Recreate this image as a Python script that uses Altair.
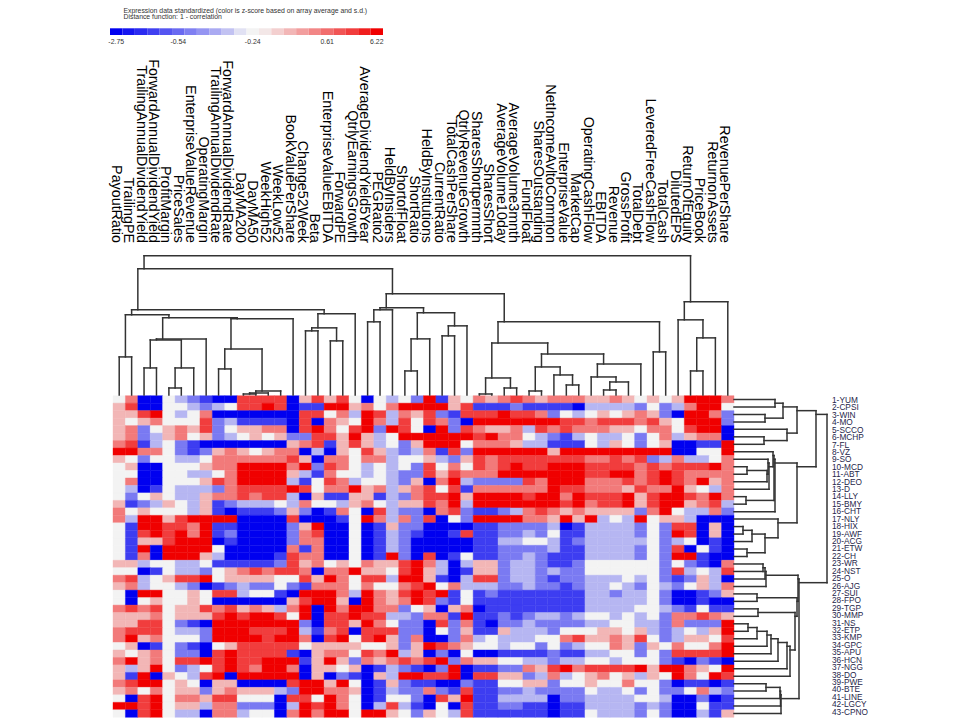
import altair as alt
import pandas as pd

COLUMN_NAMES = ["PayoutRatio","TrailingPE","TrailingAnnualDividendYield","ForwardAnnualDividendYield","ProfitMargin",
 "PriceSales","EnterpriseValueRevenue","OperatingMargin","TrailingAnnualDividendRate","ForwardAnnualDividendRate",
 "DayMA200","DayMA50","WeekHigh52","WeekLow52","BookValuePerShare","Change52Week","Beta","EnterpriseValueEBITDA",
 "ForwardPE","QtrlyEarningsGrowth","AverageDividendYield5Year","PEGRatio2","HeldByInsiders","ShortofFloat","ShortRatio",
 "HeldByInstitutions","CurrentRatio","TotalCashPerShare","QtrlyRevenueGrowth","SharesShortpermnth","SharesShort",
 "AverageVolume10day","AverageVolume3mnth","FundFloat","SharesOutstanding","NetIncomeAvltoCommon","EnterpriseValue",
 "MarketCap","OperatingCashFlow","EBITDA","Revenue","GrossProfit","TotalDebt","LeveredFreeCashFlow","TotalCash",
 "DilutedEPS","ReturnOfEquity","PriceBook","ReturnonAssets","RevenuePerShare"]

ROW_NAMES = ["1-YUM","2-CPSI","3-WIN","4-MO","5-SCCO","6-MCHP","7-FL","8-VZ","9-SO","10-MCD","11-ABT","12-DEO","13-D",
 "14-LLY","15-BMY","16-CHT","17-NLY","18-HIX","19-AWF","20-ACG","21-ETW","22-CH","23-WR","24-NST","25-O","26-AJG",
 "27-SUI","28-FPO","29-TGP","30-MMP","31-NS","32-ETP","33-KMP","34-GPC","35-APU","36-HCN","37-NGG","38-DO","39-PWE",
 "40-BTE","41-LINE","42-LGCY","43-CPNO"]

# colour level per cell: 0 = deepest blue, 4 = neutral, 8 = deepest red
LEVELS = [
 "46004321007777057 57404342815465676 5666556545458886",
 "57004432347787011 88564688885711121 1110333324236884",
 "55784346000000077 46387365721777877 6243454565208862",
 "54564447231111070 65486374762088888 8877677767548882",
 "56245657245566078 64782874082765563 7676665546647880",
 "56235645234545227 75853488888878664 3213433424635660",
 "67134210000000567 15753425888466653 3111435424500118",
 "88664212565456603 05475323617288888 8588888888800448",
 "54244334666666750 66466344532576777 7777667672363346",
 "45004445668888682 76434342746476787 7888777767677786",
 "44004433468888531 64434322757666888 8888778867876666",
 "46004445768888314 76344325068322227 6888666767876856",
 "43014333267777874 66856356747166666 6877666576685436",
 "42454335667677305 11551326778588887 8868777857887686",
 "51235435123334364 43564355768388888 8878677857885673",
 "64544435101112520 16407322067211236 7656555526843362",
 "63885788880000700 01486362704288886 6585834384553000",
 "41887768110000258 00401522000011222 2301333324277050",
 "41787868120000267 00401321001711223 2411333324287050",
 "41557888010000266 00401320000011334 4312333334234010",
 "41808888400000616 00401320000011222 2311333324270410",
 "41608885300001766 00401820701411223 2111333324288100",
 "55344334111112756 45465578630355233 2112444444242106",
 "44014332456767760 66855478530155233 2322444444273437",
 "67345778455554475 86477388510377233 2122333434212530",
 "56344320123224216 66464467846333223 2212334324324536",
 "40884454773441088 86386578781412111 1111332334200125",
 "40454454000000578 85086568721411111 1111333334200100",
 "67674557675653680 86886624505601111 1111333344321411",
 "55564555787887480 77877332661811212 3323443434266765",
 "55774210888888820 77586422072610223 2222334433262228",
 "67774332888777831 67077722042511533 3244455453234358",
 "68564442888878860 78478526002634333 4467556574235547",
 "45014210457777745 55544525876544344 2423446525464468",
 "54564220787777105 66476835020400111 1211334424277778",
 "68564778787788815 85265676782655443 3233443444210210",
 "53584234787688605 54501321028011226 5786777785886548",
 "51805437808888805 02105388778077552 3634564535486487",
 "67884540550000788 58401521100211445 5244544644201101",
 "56464552565553288 66501322621711223 2222433424224632",
 "40784665774440774 86401442075811333 3022333344300201",
 "88784553662220387 86403731040711221 1011333323200411",
 "40784330663440686 88488542543711111 1011433324200315",
]

# merge trees: (distance, left, right), a plain int is a leaf
COL_LEFT_A = (.80, (.38, 0, 1),
              (.77, (.56, (.55, (.27, 2, 3), (.27, (.07, 4, 5), 6)), 7),
               (.76, (.46, (.26, 8, 9), (.04, (.02, (.01, 10, 11), 12), 13)), 14)))
COL_LEFT_B = (.81, (.67, (.64, 15, 16), (.54, 17, 18)), 19)
COL_MID_A = (.87, (.85, (.73, 20, 21), 22),
             (.82, (.56, (.24, 23, 24), 25), (.69, (.59, 26, 27), 28)))
COL_MID_B = (.73, (.52, (.17, (.01, 29, 30), (.07, 31, 32)),
                   (.41, (.28, (.04, 33, 34), (.20, 35, (.10, 36, 37))),
                    (.31, (.18, 38, (.13, (.05, 39, 40), 41)), 42))),
             (.43, 43, 44))
COL_RIGHT = (.93, (.75, 45, (.57, (.24, 46, 47), 48)), 49)
COL_TREE = (1.39, (1.26, (.85, COL_LEFT_A, COL_LEFT_B), (1.01, COL_MID_A, COL_MID_B)), COL_RIGHT)

ROW_TOP = (.63, (.49, (.41, 0, 1), (.31, 2, 3)), (.53, 4, (.30, 5, 6)))
ROW_MID = (.41, (.40, (.39, 7, (.35, (.34, 8, (.33, (.13, 9, 10), 11)), 12)), (.12, 13, 14)), 15)
ROW_LOW = (.44, 16, (.31, (.18, (.09, 17, 18), 19), (.13, 20, 21)))
ROW_Q = (.56, (.53, (.44, (.37, (.33, (.23, (.14, 30, 31), 32), 33), 34), 35), 36), 37)
ROW_BOT = (.65, (.64, (.32, (.31, (.29, 22, 23), 24), 25),
                 (.63, (.23, 26, 27), (.61, (.24, 28, 29), ROW_Q))),
           (.47, (.465, (.46, (.32, 38, 39), 40), 41), 42))
ROW_TREE = (.93, (.82, ROW_TOP, (.63, ROW_MID, ROW_LOW)), ROW_BOT)

LEGEND_LEVELS = [0, .35, .7, 1.05, 1.4, 1.75, 2.1, 2.45, 2.8, 3.2, 3.7, 4, 4.2, 4.6, 5, 5.4, 5.8, 6.2, 6.6, 7, 7.5, 8]
LEGEND_TICKS = ["-2.75", "-0.54", "-0.24", "0.61", "6.22"]
LEGEND_TICK_CELLS = [0, 5, 11, 17, 21]
HEADER_LINES = ["Expression data standardized (color is z-score based on array average and s.d.)",
                "Distance function: 1 - correlation"]

LINE = "#333333"
FONT = "Liberation Sans"


def walk(node, out):
    if isinstance(node, int):
        return node + 0.5, 0.0
    d, left, right = node
    lp, ld = walk(left, out)
    rp, rd = walk(right, out)
    out.append((lp, rp, d, d))
    out.append((lp, lp, ld, d))
    out.append((rp, rp, rd, d))
    return lp + 0.5, d


col_segs = []
walk(COL_TREE, col_segs)
row_segs = []
walk(ROW_TREE, row_segs)

cells = []
for r, row in enumerate(LEVELS):
    digits = row.replace(" ", "")
    for c, ch in enumerate(digits):
        cells.append({"c0": c, "c1": c + 1, "r0": r, "r1": r + 1, "level": int(ch)})

col_scale = alt.Scale(domain=[0, 50], range=[105, 726])
row_scale = alt.Scale(domain=[0, 43], range=[387.7, 709.3])
color_scale = alt.Scale(domain=[0, 4, 8], range=["#0000f0", "#f3f3f3", "#f00000"], interpolate="rgb")

heat = alt.Chart(pd.DataFrame(cells)).mark_rect(strokeWidth=0.4).encode(
    x=alt.X("c0:Q", scale=col_scale, axis=None),
    x2="c1:Q",
    y=alt.Y("r0:Q", scale=row_scale, axis=None),
    y2="r1:Q",
    color=alt.Color("level:Q", scale=color_scale, legend=None),
    stroke=alt.Stroke("level:Q", scale=color_scale, legend=None),
)

col_df = pd.DataFrame(col_segs, columns=["a", "b", "d0", "d1"])
col_dend = alt.Chart(col_df).mark_rule(color=LINE, strokeWidth=1.5, strokeCap="square").encode(
    x=alt.X("a:Q", scale=col_scale, axis=None),
    x2="b:Q",
    y=alt.Y("d0:Q", scale=alt.Scale(domain=[0, 1.39], range=[387, 247.7]), axis=None),
    y2="d1:Q",
)

row_df = pd.DataFrame(row_segs, columns=["a", "b", "d0", "d1"])
row_dend = alt.Chart(row_df).mark_rule(color=LINE, strokeWidth=1.5, strokeCap="square").encode(
    y=alt.Y("a:Q", scale=row_scale, axis=None),
    y2="b:Q",
    x=alt.X("d0:Q", scale=alt.Scale(domain=[0, .93], range=[726, 819]), axis=None),
    x2="d1:Q",
)

col_labels = alt.Chart(pd.DataFrame({"name": COLUMN_NAMES, "pos": [i + 0.5 for i in range(50)]})).mark_text(
    angle=90, align="right", baseline="middle", fontSize=14.3, font=FONT, color="#000000"
).encode(
    x=alt.X("pos:Q", scale=alt.Scale(domain=[0, 50], range=[101.5, 722.5]), axis=None),
    y=alt.value(235),
    text="name:N",
)

row_labels = alt.Chart(pd.DataFrame({"name": ROW_NAMES, "pos": list(range(43))})).mark_text(
    align="left", baseline="middle", fontSize=8.3, font=FONT, color="#26264a"
).encode(
    x=alt.value(824),
    y=alt.Y("pos:Q", scale=alt.Scale(domain=[0, 42], range=[393, 704.7]), axis=None),
    text="name:N",
)

legend_scale = alt.Scale(domain=[0, 22], range=[102, 375])
legend_cells = alt.Chart(pd.DataFrame({
    "c0": list(range(22)), "c1": [i + 1 for i in range(22)], "level": LEGEND_LEVELS})).mark_rect().encode(
    x=alt.X("c0:Q", scale=legend_scale, axis=None),
    x2="c1:Q",
    y=alt.value(20.3),
    y2=alt.value(27),
    color=alt.Color("level:Q", scale=color_scale, legend=None),
)

legend_ticks = alt.Chart(pd.DataFrame({
    "t": LEGEND_TICKS, "pos": [c + 0.5 for c in LEGEND_TICK_CELLS]})).mark_text(
    fontSize=6.9, font=FONT, color="#333333", baseline="middle", align="center"
).encode(
    x=alt.X("pos:Q", scale=legend_scale, axis=None),
    y=alt.value(33.5),
    text="t:N",
)

header_1 = alt.Chart(pd.DataFrame({"t": HEADER_LINES[:1]})).mark_text(
    fontSize=6.87, font=FONT, color="#333333", align="left", baseline="middle"
).encode(x=alt.value(115.5), y=alt.value(2.7), text="t:N")
header_2 = alt.Chart(pd.DataFrame({"t": HEADER_LINES[1:]})).mark_text(
    fontSize=6.87, font=FONT, color="#333333", align="left", baseline="middle"
).encode(x=alt.value(115.5), y=alt.value(8.7), text="t:N")

chart = alt.layer(
    heat, col_dend, row_dend, col_labels, row_labels, legend_cells, legend_ticks, header_1, header_2
).resolve_scale(x="independent", y="independent").properties(
    width=944, height=710, padding=0, autosize=alt.AutoSizeParams(type="none"), background="white"
).configure_view(stroke=None)

chart.save("out.html", embed_options={"renderer": "svg", "actions": False})
